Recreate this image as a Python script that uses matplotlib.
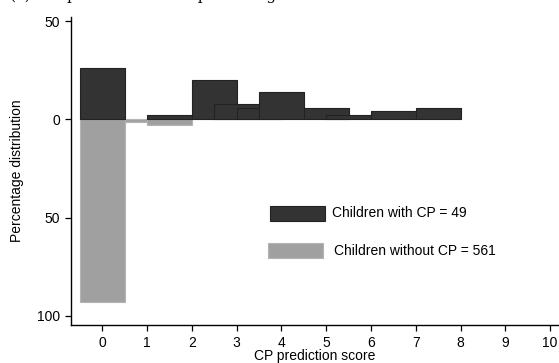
import matplotlib
matplotlib.use('Agg')
import matplotlib.pyplot as plt
from matplotlib.patches import Rectangle

# children with CP (n=49): bar centres and percentages
cp_x = [0, 1.5, 2.5, 3, 3.5, 4, 5, 5.5, 6.5, 7.5]
cp_pct = [26.0, 2.0, 20.0, 8.0, 6.0, 14.0, 6.0, 2.0, 4.0, 6.0]

# children without CP (n=561), drawn below zero
nocp_x = [0, 1, 1.5]
nocp_pct = [93.0, 1.5, 2.7]

x_ticks = list(range(0, 11))
y_ticks = [50, 0, -50, -100]
y_tick_labels = ['50', '0', '50', '100']

legend_labels = ['Children with CP = 49', 'Children without CP = 561']
dark = '#333333'
light = '#a0a0a0'

plt.rcParams['font.family'] = ['Liberation Sans', 'DejaVu Sans']

W, H = 559, 363
fig = plt.figure(figsize=(W / 100, H / 100), dpi=100)
ax = fig.add_axes([71 / W, 1 - 325 / H, 1 - 71 / W, (325 - 17) / H])

for x, p in zip(nocp_x, nocp_pct):
    ax.bar(x, -p, width=1, color=light, edgecolor='#b4b4b4', linewidth=0.8)
for x, p in zip(cp_x, cp_pct):
    ax.bar(x, p, width=1, color=dark, edgecolor='#222222', linewidth=0.8)

ax.set_xlim(-0.70, 10.2)
ax.set_ylim(-104.7, 52.1)
ax.set_xticks(x_ticks)
ax.set_yticks(y_ticks)
ax.set_yticklabels(y_tick_labels)
ax.tick_params(labelsize=10, length=4.5, width=0.9, color='black')
for s in ['top', 'right']:
    ax.spines[s].set_visible(False)
for s in ['left', 'bottom']:
    ax.spines[s].set_linewidth(1.0)

fig.text(17 / W, 1 - 171 / H, 'Percentage distribution', rotation=90,
         ha='center', va='center', fontsize=10)
fig.text(315 / W, 1 - 356 / H, 'CP prediction score', ha='center', va='center',
         fontsize=10)
fig.text(10 / W, 1 + 4 / H, '(c)  CP prediction score percentage distribution',
         ha='left', va='center', fontsize=11, family='DejaVu Serif')

# legend drawn by hand
fig.patches.append(Rectangle((270 / W, 1 - 221 / H), 55 / W, 15 / H,
                             transform=fig.transFigure, facecolor=dark,
                             edgecolor='#222222', linewidth=0.8))
fig.patches.append(Rectangle((268 / W, 1 - 258 / H), 55 / W, 15 / H,
                             transform=fig.transFigure, facecolor=light,
                             edgecolor='#b4b4b4', linewidth=0.8))
fig.text(332 / W, 1 - 213 / H, legend_labels[0], va='center', fontsize=10)
fig.text(334 / W, 1 - 251 / H, legend_labels[1], va='center', fontsize=10)

fig.savefig('out.png', dpi=100)
